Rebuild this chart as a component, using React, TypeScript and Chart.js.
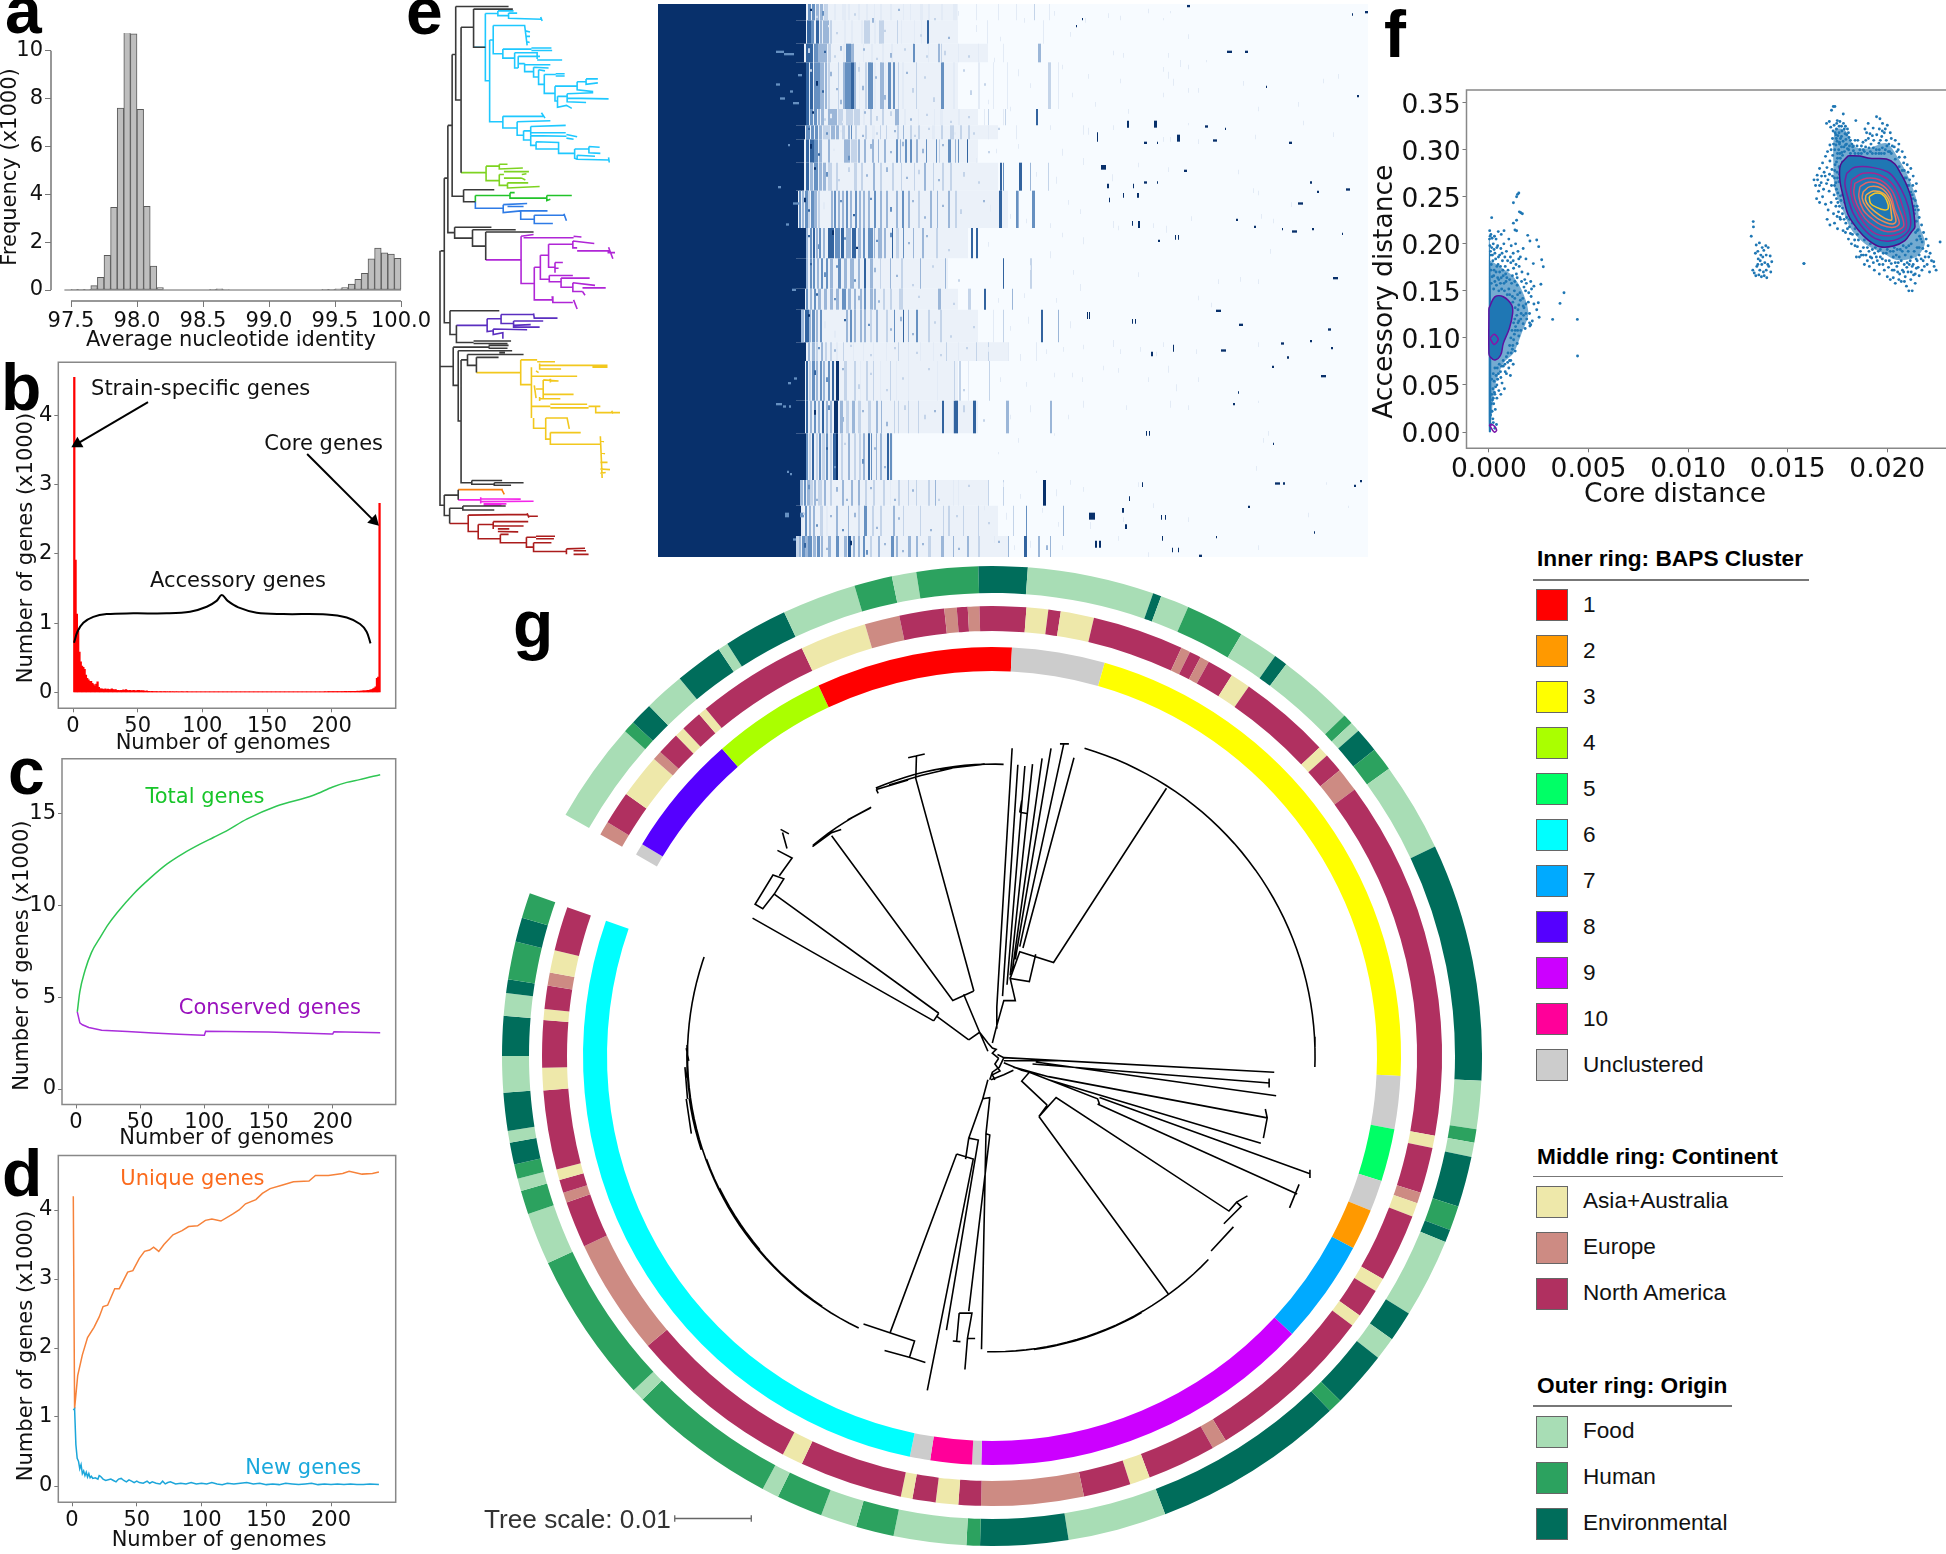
import React, { useEffect, useRef } from "react";
import { Chart, registerables } from "chart.js";
Chart.register(...registerables);

const PLOT_FONT = "'DejaVu Sans'";
const LEG_FONT = "'Liberation Sans'";

/* ---------- a: ANI histogram ---------- */
const aniBins = [97.525,97.575,97.625,97.675,97.725,97.775,97.825,97.875,97.925,97.975,98.025,98.075,98.125,98.175,98.575,98.625,98.675,99.425,99.475,99.525,99.575,99.625,99.675,99.725,99.775,99.825,99.875,99.925,99.975];
const aniFreq = [0.01,0.01,0.03,0.18,0.53,1.45,3.45,7.6,11.15,10.7,7.55,3.5,1.0,0.1,0.03,0.05,0.02,0.01,0.03,0.05,0.1,0.25,0.45,0.7,1.3,1.75,1.55,1.5,1.32];

/* ---------- b: gene frequency ---------- */
const geneFreq = [
4.55,1.91,1.13,0.88,0.58,0.44,0.38,0.36,0.33,0.25,0.2,0.18,0.16,0.16,0.13,0.11,0.09,0.12,0.15,0.07,
0.05,0.05,0.045,0.04,0.05,0.04,0.045,0.04,0.04,0.05,0.04,0.035,0.04,0.03,0.03,0.025,0.03,0.03,0.035,0.03,
0.04,0.03,0.025,0.03,0.02,0.025,0.03,0.02,0.02,0.03,0.03,0.02,0.025,0.02,0.02,0.015,0.02,0.015,0.015,0.01,
0.015,0.01,0.012,0.01,0.012,0.008,0.01,0.012,0.008,0.01,0.01,0.008,0.01,0.007,0.01,0.008,0.01,0.006,0.008,0.01,
0.008,0.006,0.008,0.01,0.006,0.008,0.007,0.01,0.006,0.008,0.006,0.008,0.005,0.008,0.006,0.008,0.005,0.006,0.008,0.005,
0.006,0.005,0.008,0.005,0.006,0.005,0.006,0.008,0.005,0.006,0.005,0.005,0.006,0.005,0.008,0.005,0.006,0.005,0.005,0.006,
0.005,0.006,0.005,0.005,0.006,0.004,0.005,0.006,0.005,0.004,0.006,0.005,0.004,0.005,0.006,0.005,0.004,0.005,0.006,0.004,
0.005,0.004,0.006,0.004,0.005,0.004,0.005,0.004,0.005,0.006,0.004,0.005,0.004,0.005,0.004,0.006,0.005,0.004,0.005,0.004,
0.005,0.005,0.004,0.005,0.006,0.005,0.004,0.005,0.006,0.005,0.005,0.006,0.005,0.006,0.005,0.006,0.006,0.005,0.006,0.007,
0.006,0.006,0.007,0.006,0.007,0.008,0.006,0.007,0.008,0.007,0.008,0.008,0.007,0.008,0.009,0.008,0.009,0.01,0.009,0.01,
0.01,0.009,0.01,0.011,0.01,0.012,0.011,0.012,0.012,0.013,0.014,0.012,0.013,0.014,0.013,0.015,0.014,0.015,0.015,0.016,
0.015,0.016,0.018,0.02,0.02,0.022,0.025,0.03,0.03,0.035,0.04,0.05,0.06,0.08,0.2,0.22,2.73];
const braceX = [0.8,3.4,8,15.7,26,46.6,72.4,90.5,103.4,111,115,119.6,127.8,142,162.6,196,211.6,221.9,227,230];
const braceY = [0.716,0.875,1.005,1.09,1.13,1.14,1.14,1.163,1.235,1.32,1.404,1.32,1.226,1.149,1.13,1.125,1.08,0.986,0.875,0.707];
const strainArrowX = [58,3.4], strainArrowY = [4.19,3.59];
const coreArrowX = [181,232.7], coreArrowY = [3.44,2.476];

/* ---------- c: pan / core curves ---------- */
const totalX = [1,3,7,12,19,25,32,45,58,71,84,97,107,117,133,156,185,200,211,221,237];
const totalY = [4.2,5.3,6.45,7.43,8.27,8.95,9.6,10.64,11.5,12.26,12.85,13.35,13.7,14.05,14.7,15.4,16,16.45,16.7,16.85,17.12];
const conservedX = [1,2,3,5,10,20,40,60,80,99,100,101,150,199,200,201,237];
const conservedY = [4.2,3.9,3.6,3.5,3.35,3.2,3.13,3.05,2.98,2.93,2.93,3.15,3.1,3.0,3.0,3.12,3.07];

/* ---------- d: unique / new genes ---------- */
const uniqueX = [1,2,4.4,8,12,17,21,24,27.5,33,36.5,43,47,52,56,60,63,67,71,78,85,90,97,103,108,115,124,129,134,142,147,153,162,171,183,188,198,209,214,224,232,237];
const uniqueY = [4.2,1.12,1.6,1.9,2.15,2.3,2.45,2.6,2.62,2.86,2.86,3.1,3.12,3.3,3.4,3.42,3.46,3.4,3.5,3.64,3.7,3.76,3.77,3.85,3.87,3.84,3.94,4,4.09,4.15,4.24,4.31,4.36,4.41,4.42,4.5,4.5,4.53,4.56,4.52,4.53,4.55];
const newX = [1,2,3,4,5,6,7,8,9,10,11,12,13,14,15,16,18,20,21,22,24,26,28,30,32,34,36,38,40,42,44,46,48,50,52,55,58,60,62,65,68,70,72,74,76,80,84,88,92,96,100,104,108,112,116,120,125,130,135,140,145,150,155,160,165,170,175,180,185,190,195,200,205,210,215,220,225,230,237];
const newY = [1.1,1.12,0.6,0.4,0.36,0.25,0.31,0.18,0.22,0.15,0.2,0.13,0.18,0.12,0.14,0.11,0.12,0.1,0.15,0.14,0.1,0.08,0.09,0.1,0.08,0.06,0.1,0.11,0.08,0.06,0.09,0.07,0.05,0.07,0.05,0.04,0.07,0.04,0.06,0.04,0.03,0.07,0.03,0.05,0.06,0.03,0.04,0.03,0.05,0.03,0.04,0.03,0.05,0.03,0.02,0.04,0.03,0.04,0.05,0.03,0.04,0.02,0.03,0.02,0.04,0.03,0.02,0.03,0.04,0.02,0.03,0.02,0.03,0.02,0.03,0.02,0.02,0.03,0.02];

/* ---------- e: tree, written as branches in tree-plot units ---------- */
const treeBlack = [
[100,18,248,18],[100,18,100,275,115,275],[150,25,260,25],[150,25,150,130,183,130],[115,75,150,75],[115,75,115,475],
[90,150,98,150],[90,150,90,540,122,540],[122,522,208,522],[122,522,122,555,155,555],[78,345,90,345],[78,345,78,640,97,640],
[97,625,97,655,147,655],[97,625,200,625],[147,632,147,677,184,677],[147,632,268,632],[184,638,184,715],[184,638,318,638],
[68,490,78,490],[68,490,68,888,84,888],[84,855,84,920,102,920],[84,855,222,855],[102,895,102,942,150,942],[150,938,255,938],[150,945,245,945],[192,950,248,950],[192,958,245,958],
[58,690,68,690],[56,690,56,1390,68,1390],[56,1008,93,1008],[93,955,93,1060,107,1060],[93,955,195,955],[107,965,107,1158,115,1158],[107,965,258,965],
[115,990,115,1328,145,1328],[115,990,133,990],[133,975,133,1005,158,1005],[133,975,290,975],[158,983,158,1025],[158,983,220,983],[222,970,238,970],
[145,1322,145,1332,208,1332],[145,1322,230,1322],[208,1328,208,1335,255,1335],[208,1328,290,1328],
[68,1362,68,1418,83,1418],[68,1362,107,1362],[107,1347,107,1375],[83,1398,83,1440],[83,1398,120,1398],[120,1392,120,1403,208,1403],[120,1392,240,1392]];
const treeCyan = [
[183,37,183,222,195,222],[183,130,150,130],[183,37,218,37],[218,30,218,43,248,43],[218,30,262,30],[248,36,248,50,340,53],[248,36,272,36],[338,47,342,58],
[195,110,195,335,232,335],[195,110,205,110],[205,70,205,148,232,148],[205,70,293,70,300,125],[295,85,308,88],[297,100,308,100],[300,115,307,117],
[232,135,232,160,265,160],[232,135,312,135],[312,132,368,132],[312,139,370,139],[265,145,265,187,275,187],[265,145,328,145,328,162],[328,165,398,165],[275,155,275,187],[275,155,336,155],[275,175,293,175],[293,175,293,197,318,197],[293,178,365,178],[318,185,318,212,332,212],[318,185,360,187],[332,192,332,232,348,232],[332,192,350,195],[348,205,348,257,378,257],[348,205,380,205],[380,203,405,203],[380,209,405,209],[378,237,378,278,385,278],[378,237,440,237],[440,225,440,247,485,252],[440,225,465,225],[465,217,465,232,498,228],[465,217,498,217],[385,265,385,295,410,290,425,298],[385,265,412,265],[412,258,412,280,465,282],[412,258,485,255],[412,270,528,272],
[232,320,232,352,272,352],[232,320,345,320],[340,310,350,325],[272,335,272,372,290,372],[272,335,365,332],[290,360,290,385,310,385],[290,360,310,360],[310,348,310,372],[310,348,408,345],[310,365,408,365],[310,373,310,400,325,400],[310,373,410,375],[410,370,440,376],[410,380,430,383],[325,390,325,410,388,410],[325,390,388,392,388,422,433,422],[433,410,433,435,440,438],[433,410,473,410],[473,403,473,420,505,422],[473,403,503,405],[440,427,440,438,530,440],[440,427,490,430],[528,433,530,447]];
const treeLime = [[115,475,185,475],[185,457,185,497,222,497],[185,457,222,457],[222,452,222,465,288,462],[222,452,245,452],[222,480,222,510,245,510],[222,480,235,480],[235,472,305,472],[235,490,285,490],[285,480,298,478],[285,490,295,495],[245,503,303,503],[245,503,245,517,335,513]];
const treeGreen = [[155,538,252,538],[155,555,155,538],[252,530,252,545,355,545],[252,530,265,530],[355,538,355,552,365,548],[355,538,425,538]];
const treeBlue = [[155,555,155,573,233,573],[233,563,233,585,282,580],[233,563,300,560],[245,568,290,568],[282,580,282,603,320,603],[282,580,357,580],[320,592,320,615,372,615],[320,592,405,592],[403,588,410,607]];
const treePurple = [[184,715,283,715],[283,650,283,780,320,780],[283,650,318,645],[290,654,430,654],[430,650,452,652],[320,735,320,825,370,825],[320,735,337,735],[337,702,337,768,362,768],[337,702,360,702],[360,672,360,735,378,735],[360,672,428,672],[428,663,428,682,440,682],[428,663,488,670],[440,690,530,690],[378,722,378,750],[378,722,400,722],[378,738,388,738],[362,758,362,775,395,775],[362,758,428,758],[395,765,395,790,428,790],[395,765,475,765],[428,778,428,802,455,802],[428,778,490,785],[455,792,520,792],[455,802,462,812],[370,815,372,832,428,832],[430,825,440,850],[528,680,540,712],[525,695,546,695]];
const treeIndigo = [[102,895,188,895],[188,877,188,912,205,910],[188,877,227,877],[227,865,227,890,262,890],[227,865,318,865],[318,862,320,875,385,875],[262,883,262,900,335,900],[262,883,345,883],[262,895,310,893],[205,905,205,920,232,915,232,932],[205,905,300,907]];
const treeGold = [[158,1025,282,1025],[282,990,282,1058,312,1058],[282,990,328,990],[328,995,378,995],[335,1000,335,1015,395,1015],[335,1005,525,1005],[485,1003,485,1010,525,1010],[312,1010,312,1150],[312,1035,440,1035],[325,1020,332,1025],[320,1060,325,1095],[325,1070,345,1070],[345,1045,345,1095],[345,1045,388,1048],[365,1042,365,1052],[345,1085,430,1085],[335,1097,393,1097],[335,1092,335,1103],[312,1118,365,1118],[365,1112,468,1112],[365,1122,472,1122],[472,1118,505,1118],[492,1118,492,1135,560,1135],[537,1130,540,1138],[318,1150,318,1178,352,1178],[352,1150,352,1208,365,1208],[352,1150,412,1150,418,1180],[365,1190,365,1222,505,1222],[365,1190,450,1190],[505,1200,510,1315],[505,1212,515,1215],[505,1245,518,1248],[505,1272,525,1272],[505,1290,532,1292],[505,1302,520,1300]];
const treeOrange = [[107,1347,232,1347],[228,1345,236,1360]];
const treeMagenta = [[107,1375,170,1375],[170,1368,170,1385],[170,1372,282,1373],[170,1380,318,1379],[178,1386,242,1386],[178,1390,228,1390]];
const treeRed = [[83,1440,135,1440],[135,1417,135,1462,163,1462],[135,1417,300,1415],[300,1412,305,1424],[305,1420,330,1420],[163,1443,163,1482,225,1482],[163,1443,205,1443],[205,1435,205,1455],[205,1435,303,1435],[205,1447,290,1447],[218,1455,250,1455],[218,1462,275,1463],[225,1470,225,1493,298,1493],[225,1470,248,1470],[298,1478,298,1505,318,1505],[298,1478,325,1478],[325,1475,378,1475],[325,1482,375,1482],[318,1493,318,1517,410,1517],[318,1493,368,1493],[410,1510,410,1525],[410,1510,462,1508],[430,1515,465,1515],[430,1525,472,1525]];
const treeColors = ["#3a3a3a","#1ec8ff","#7ed321","#22c32a","#2e7be6","#b026d6","#5a2ec0","#f2c81e","#f77f0f","#f325e9","#ab1c1c"];

/* ---------- e: presence/absence heat map (columns = genes, rows = genomes) ---------- */
const heatShades = ["#08306b","#32639f","#6690c1","#9bb6d8","#c4d4e9","#e3ebf6"];
const heatBandTop = [0,7,17,25,45,52,58,68,80,96,109,122,131,145,153,170,184,204,215,228];
const heatBandBottom = [7,17,25,45,52,58,68,80,96,109,122,131,145,153,170,184,204,215,228,237];
const heatEdge = [148,148,146,148,148,147,146,146,140,148,148,147,143,148,147,147,148,142,143,138];
const heatPaleExtent = [300,300,330,300,320,340,320,340,350,310,290,300,320,350,300,320,235,330,340,350];
const heatBandStripes = [
[[150,3,2],[154,3,2],[158,3,3],[162,3,3],[166,4,4],[176,2,5],[184,4,5],[190,2,5],[200,2,5],[208,2,5],[216,1,5],[222,2,5],[232,2,5],[245,1,5],[252,1,5],[262,3,5],[270,2,5],[283,2,5],[295,4,5],[318,1,5],[340,1,5],[358,1,5],[376,1,4],[391,1,5]],
[[149,4,1],[153,3,2],[158,3,1],[162,2,3],[165,6,3],[172,2,4],[186,2,5],[193,2,5],[203,2,5],[206,6,4],[216,2,5],[221,5,4],[239,1,4],[243,1,5],[256,1,5],[269,2,1],[263,1,5],[329,1,5],[385,1,5]],
[[148,4,1],[152,3,1],[156,4,2],[160,4,3],[164,5,3],[170,3,4],[185,2,5],[188,5,2],[193,3,3],[205,1,5],[213,2,5],[224,2,5],[233,2,5],[255,2,2],[280,2,3],[283,1,4],[380,3,3],[300,1,5],[320,1,5],[345,1,5],[270,1,5]],
[[148,3,1],[152,3,1],[156,3,2],[159,3,2],[162,4,3],[167,2,3],[170,2,4],[180,1,4],[185,2,3],[187,6,2],[193,3,1],[196,2,3],[201,1,5],[207,2,4],[210,5,2],[216,2,5],[222,4,3],[227,1,5],[230,3,2],[235,2,2],[240,1,4],[244,2,5],[258,1,4],[283,3,2],[295,2,5],[320,2,5],[335,1,5],[349,1,5],[390,3,4],[400,1,5]],
[[148,3,1],[152,3,2],[156,3,2],[160,2,3],[163,3,3],[170,9,3],[180,5,4],[188,7,4],[196,6,4],[205,2,5],[212,2,4],[224,2,4],[237,4,3],[246,2,5],[260,1,5],[276,1,5],[282,3,5],[300,2,5],[326,1,5],[330,1,4],[347,1,4],[378,2,1],[345,1,5]],
[[148,4,2],[153,3,2],[157,3,2],[161,3,3],[165,7,4],[173,4,3],[178,3,3],[184,3,4],[190,2,3],[193,1,2],[197,2,4],[207,2,4],[214,3,5],[222,1,4],[228,1,4],[239,2,4],[245,1,3],[252,2,4],[260,2,4],[274,3,5],[283,2,4],[292,4,4],[302,2,4],[310,2,4],[330,1,5],[358,1,5]],
[[148,3,1],[152,4,1],[156,4,2],[161,3,3],[170,2,3],[186,6,3],[193,6,4],[200,2,3],[206,2,3],[214,2,3],[220,1,3],[226,2,3],[238,2,2],[242,1,3],[247,2,2],[252,2,2],[258,2,3],[268,1,2],[278,1,2],[281,1,4],[290,3,2],[297,1,3],[309,1,1],[300,1,2]],
[[148,3,1],[152,3,3],[156,4,2],[161,3,3],[165,3,3],[170,2,4],[172,2,4],[178,2,4],[196,3,4],[203,2,4],[215,2,3],[222,2,4],[234,2,4],[243,1,4],[256,1,4],[266,2,3],[275,1,4],[284,2,4],[292,2,4],[342,2,1],[345,1,2],[361,3,1],[372,1,3],[390,1,4]],
[[141,2,2],[144,2,3],[147,3,2],[150,2,4],[153,3,2],[156,3,3],[160,2,4],[173,2,3],[176,2,2],[180,2,3],[184,2,3],[188,2,2],[192,2,3],[197,2,2],[201,2,3],[205,2,3],[210,2,3],[216,2,2],[222,2,3],[228,2,3],[238,2,3],[244,2,2],[250,2,3],[260,2,4],[272,2,3],[279,1,3],[290,2,3],[297,2,4],[341,3,1],[358,2,2],[374,3,2],[360,1,3]],
[[148,2,3],[152,2,2],[155,2,1],[158,2,3],[161,2,2],[165,2,3],[170,6,1],[177,5,2],[183,3,1],[188,5,3],[194,4,1],[200,3,3],[205,2,2],[210,5,2],[216,1,3],[220,4,3],[226,2,3],[234,1,1],[238,3,4],[245,1,2],[255,1,3],[264,2,3],[278,2,4],[313,2,1],[318,2,1]],
[[148,2,3],[152,2,2],[155,2,2],[159,2,3],[163,2,2],[168,2,2],[172,3,3],[180,3,2],[186,3,3],[192,4,3],[200,2,3],[206,2,1],[212,3,3],[222,1,4],[232,1,3],[243,2,4],[262,1,3],[287,1,3],[345,1,1],[372,2,4]],
[[148,2,2],[152,2,3],[156,2,2],[160,3,3],[166,3,3],[172,3,3],[178,3,3],[184,4,2],[190,3,3],[196,2,3],[202,2,3],[206,2,2],[212,3,3],[216,2,3],[225,2,4],[232,2,4],[241,4,4],[280,3,3],[310,3,4],[326,2,1],[354,1,3]],
[[143,3,3],[147,4,1],[151,2,3],[154,3,2],[158,2,3],[162,2,2],[188,2,3],[192,2,2],[196,2,3],[202,2,3],[206,2,3],[212,2,4],[218,2,3],[228,2,4],[236,1,2],[245,1,1],[250,1,3],[258,2,2],[270,2,4],[282,2,4],[345,1,4],[383,2,1],[400,1,3],[335,1,5]],
[[150,2,3],[154,3,3],[158,2,4],[163,2,3],[167,2,4],[172,2,4],[178,2,5],[185,1,4],[195,1,5],[205,1,5],[215,1,5],[228,1,5],[240,1,4],[250,1,5],[262,1,5],[275,1,5],[288,1,4],[300,1,5],[318,1,4],[330,1,4],[350,1,5],[378,1,5]],
[[148,2,1],[151,2,4],[154,3,2],[158,2,3],[162,2,2],[165,2,3],[170,2,2],[174,2,1],[178,3,0],[186,3,4],[196,2,4],[202,1,5],[208,2,4],[215,1,4],[222,1,5],[232,1,4],[238,1,5],[250,1,5],[279,1,5],[296,1,4],[301,2,4],[310,1,5],[331,1,4]],
[[148,2,1],[152,2,3],[156,2,2],[160,2,3],[164,2,1],[168,2,3],[172,2,3],[176,4,0],[182,3,3],[188,3,4],[194,3,3],[200,3,4],[210,3,4],[218,2,3],[223,1,3],[236,1,4],[240,1,4],[250,1,4],[260,1,4],[284,2,1],[296,4,1],[295,1,4],[315,3,1],[348,3,3],[392,2,3]],
[[148,2,2],[151,2,4],[154,2,1],[158,2,4],[161,2,2],[164,3,4],[168,2,2],[172,2,4],[175,3,1],[178,2,0],[183,2,4],[190,2,3],[196,2,4],[201,2,4],[205,2,3],[210,2,1],[213,1,2],[218,1,3],[222,2,3],[229,2,1],[232,2,2]],
[[142,3,3],[146,2,2],[149,3,3],[152,3,4],[156,2,3],[160,4,4],[166,2,3],[172,2,4],[184,2,3],[193,2,3],[200,2,3],[207,2,4],[215,2,4],[225,2,4],[232,1,5],[240,2,4],[250,1,4],[258,1,4],[270,2,4],[277,1,3],[295,1,5],[300,1,5],[385,3,0],[330,1,4],[345,1,4]],
[[143,2,5],[147,2,2],[151,2,3],[155,2,3],[162,3,4],[168,2,5],[178,2,3],[190,1,3],[200,2,4],[206,3,2],[214,2,4],[222,2,4],[235,2,3],[245,1,4],[262,1,4],[285,1,4],[290,2,4],[305,1,4],[320,1,4],[368,1,2],[355,1,4],[405,1,3]],
[[138,3,4],[141,2,3],[144,3,2],[147,3,3],[150,4,2],[155,3,3],[159,3,2],[163,2,3],[170,3,3],[178,3,2],[186,3,3],[190,3,1],[195,2,3],[200,2,3],[205,2,2],[212,2,4],[220,2,3],[233,3,2],[238,2,3],[250,3,3],[258,2,3],[270,3,4],[283,3,3],[295,1,3],[309,2,3],[320,2,4],[366,3,1],[380,2,3],[392,1,3],[350,1,3]]];
/* column, row, genes wide, genomes tall */
const heatDots = [[529,0.4,3,1],[469,50,2,3],[496,50,3,3],[439,55,1,4],[519,56,3,3],[486,59,3,1],[499,59,1,1],[547,52,3,1],[567,53,1,1],[555,58,4,1],[631,59,3,1],[443,69,5,2],[486,76,3,1],[499,76,1,1],[449,77,2,2],[475,77,1,2],[479,81,2,2],[465,81,1,2],[451,83,1,2],[526,71,3,1],[569,20,5,1],[587,20,3,1],[694,4,1,1],[707,3,3,1],[699,39,2,1],[608,35,1,1],[688,79,4,1],[659,80,2,1],[640,85,5,1],[652,76,2,1],[578,92,2,1],[480,93,2,3],[474,93,1,2],[596,95,2,1],[624,96,1,1],[634,97,5,1],[654,96,2,1],[517,99,1,2],[520,99,1,2],[500,101,2,1],[684,98,1,1],[675,117,5,1],[558,131,5,1],[429,132,1,3],[431,132,1,3],[474,135,1,2],[477,135,1,2],[581,137,4,1],[670,139,3,1],[623,145,3,1],[652,144,2,1],[673,147,2,1],[563,148,5,1],[515,146,1,3],[493,149,2,2],[629,151,2,1],[614,155,2,1],[663,159,5,1],[580,166,1,1],[575,171,2,1],[488,183,1,2],[491,183,1,2],[615,188,1,1],[617,205,5,1],[625,205,2,1],[484,205,1,2],[702,204,2,1],[696,206,2,1],[471,211,1,2],[590,215,2,1],[464,216,2,2],[431,218,6,3],[507,219,1,2],[503,219,1,2],[467,223,2,2],[437,230,2,3],[441,230,2,3],[504,228,1,2],[514,233,1,2],[520,233,1,2],[541,236,3,1],[558,228,1,1],[656,226,1,1],[418,9,1,1],[424,6,1,1]];
/* faint single-gene flecks in the sparse part: column, row, genomes tall */
const heatFlecks = [[427,6,2],[450,4,2],[462,5,2],[490,2,2],[505,6,1],[512,3,1],[530,13,2],[455,20,2],[465,21,2],[510,21,2],[522,24,3],[530,26,2],[505,27,2],[548,24,1],[430,30,2],[462,32,2],[510,29,3],[515,32,3],[530,36,2],[540,36,2],[505,38,2],[437,42,2],[470,45,2],[585,33,2],[665,32,2],[680,30,2],[600,44,2],[640,42,2],[430,53,3],[425,52,4],[455,52,2],[505,57,2],[512,57,2],[530,51,1],[540,58,2],[597,56,2],[645,50,2],[675,55,2],[425,66,3],[454,73,3],[480,68,2],[510,70,2],[580,71,2],[595,79,2],[600,80,2],[633,85,2],[422,88,2],[455,93,3],[460,95,2],[495,94,2],[508,95,3],[533,91,2],[603,90,2],[615,92,2],[425,100,3],[612,105,2],[480,115,2],[560,118,2],[582,117,2],[600,118,2],[422,120,3],[553,128,2],[540,125,2],[425,146,2],[455,144,3],[462,148,2],[482,147,2],[498,149,2],[505,145,2],[538,148,2],[600,145,2],[424,160,2],[445,155,2],[460,156,2],[490,160,2],[510,155,3],[540,160,2],[518,163,3],[425,170,3],[468,172,2],[512,170,3],[530,172,2],[600,170,1],[610,183,2],[605,186,2],[598,198,2],[480,205,2],[425,207,2],[495,214,2],[465,220,2],[432,222,3],[460,228,2],[530,220,2],[490,235,2],[600,232,2],[690,215,1],[668,205,1],[650,218,2],
[300,3,2],[318,9,3],[342,14,2],[366,6,2],[396,3,2],[412,12,2],[336,23,2],[360,28,3],[372,34,2],[404,26,2],[414,38,2],[330,41,2],[352,44,2],[392,52,2],[404,62,3],[338,62,2],[360,60,2],[318,66,2],[378,72,2],[398,74,3],[410,84,2],[332,86,3],[352,90,2],[368,92,2],[392,94,2],[404,98,2],[330,102,2],[372,112,2],[392,106,3],[415,114,2],[340,126,2],[366,124,2],[398,126,2],[412,136,3],[370,134,3],[352,138,2],[330,147,2],[362,150,3],[388,148,2],[405,147,2],[414,158,2],[342,160,2],[368,162,2],[396,158,2],[352,176,2],[372,172,3],[410,176,2],[396,184,1],[360,186,2],[340,192,1],[378,200,1],[345,205,2],[362,210,2],[398,208,3],[412,204,2],[326,215,2],[348,218,3],[384,216,2],[400,222,2],[336,228,3],[356,232,2],[372,230,3],[404,232,2]];
/* darker and paler interruptions in the stripes: column, row, genomes tall, shade */
const heatMottle = [[152,2,1,0],[158,5,1,4],[164,3,2,2],[170,9,1,5],[178,12,1,4],[196,4,1,4],[214,6,2,3],[226,11,1,4],[240,2,1,3],[262,13,1,4],[276,6,1,4],[290,14,1,3],[150,19,2,4],[166,20,1,1],[176,22,1,4],[182,18,2,3],[205,19,1,3],[218,23,1,4],[232,21,2,3],[246,19,1,4],[268,22,1,4],[286,20,2,4],[310,22,1,4],[152,28,1,4],[158,33,2,0],[164,37,1,1],[172,29,2,3],[178,36,1,3],[182,41,2,3],[200,27,2,4],[204,35,2,3],[217,31,1,3],[226,39,2,3],[248,29,1,3],[254,36,2,4],[266,31,1,4],[275,40,2,4],[305,28,1,4],[312,37,2,4],[326,34,1,4],[154,46,1,0],[166,49,1,4],[172,47,2,5],[184,50,1,5],[206,46,1,3],[218,48,2,4],[232,46,2,4],[252,49,1,3],[268,47,1,4],[292,50,1,4],[310,48,1,4],[150,53,1,1],[168,55,1,2],[182,54,1,5],[204,56,1,3],[218,55,1,4],[236,54,1,3],[256,56,1,4],[270,53,1,4],[296,55,1,5],[315,55,1,4],[340,53,1,4],[152,60,2,0],[160,64,1,1],[175,62,1,5],[190,65,2,2],[212,60,2,3],[232,63,1,3],[244,59,2,3],[264,62,2,3],[284,60,1,3],[330,63,1,4],[156,70,1,0],[168,72,2,2],[180,75,1,4],[190,70,2,4],[208,73,1,3],[228,70,2,3],[248,74,1,3],[260,71,2,4],[280,75,1,3],[305,72,2,4],[320,76,1,4],[146,83,2,0],[150,88,1,1],[165,85,3,5],[182,84,1,2],[195,90,1,1],[212,83,1,2],[232,87,2,2],[254,84,1,3],[266,91,1,3],[284,86,1,3],[302,88,2,4],[325,84,1,3],[150,99,1,1],[160,103,2,2],[174,97,2,0],[186,100,1,2],[198,104,1,0],[218,101,1,2],[232,98,2,2],[250,102,1,3],[268,99,1,3],[290,105,1,4],[152,111,1,1],[166,115,2,2],[178,112,1,2],[196,118,1,2],[216,113,2,3],[238,116,1,3],[254,120,1,4],[274,112,1,4],[300,118,1,4],[158,124,1,1],[176,126,1,2],[200,125,2,3],[220,127,1,3],[260,125,1,4],[295,128,1,4],[150,133,1,0],[166,136,3,5],[176,140,3,5],[186,135,1,1],[210,137,1,2],[232,139,1,3],[242,134,2,3],[254,141,1,3],[276,136,1,4],[292,142,1,4],[315,138,1,4],[160,147,1,2],[176,148,1,3],[192,146,1,4],[212,150,1,4],[236,147,1,4],[258,149,1,4],[282,150,1,4],[308,147,1,4],[156,157,2,1],[168,160,2,2],[184,156,1,3],[200,163,2,4],[212,158,1,4],[228,165,1,4],[244,160,1,4],[270,156,1,4],[305,165,1,4],[156,174,2,0],[170,172,2,2],[184,177,2,3],[204,174,1,3],[228,179,2,3],[246,172,2,4],[266,176,2,4],[276,174,1,3],[305,172,3,4],[325,178,1,4],[168,190,1,1],[186,188,1,4],[176,198,1,2],[204,195,2,2],[216,190,1,3],[226,198,1,3],[150,206,2,2],[158,212,1,3],[178,207,2,3],[188,212,1,3],[212,207,1,3],[236,212,1,3],[254,208,1,3],[280,212,1,4],[310,206,1,4],[145,218,1,4],[158,223,1,2],[172,219,1,3],[184,225,1,2],[196,218,2,3],[218,224,1,3],[240,220,1,3],[272,225,1,3],[298,219,1,4],[330,222,1,4],[146,231,2,1],[168,233,1,3],[192,230,2,0],[208,234,2,2],[226,231,1,3],[244,234,1,3],[264,231,1,3],[300,233,1,3],[340,230,1,3],[388,232,2,3]];
/* pale gaps in the solid block: column, genes wide, row, genomes tall */
const heatSpecks = [[118,8,20,1],[126,10,21,1],[122,5,40,1],[135,6,42,1],[132,3,37,1],[140,4,30,1],[118,4,34,1],[130,2,60,1],[135,6,85,1],[120,3,78,1],[127,4,218,2],[142,4,218,2],[132,2,201,1],[130,3,162,1],[136,3,160,1],[125,3,172,1],[131,2,172,1],[118,6,171,1],[134,4,122,1],[128,3,94,1],[129,2,200,1],[135,3,229,1]];

/* ---------- f: distance scatter (core ×1e-5, accessory ×1e-3) ---------- */
const mainCloud = [1729,346,1720,342,1737,346,1709,330,1695,328,1749,331,1779,338,1842,331,1946,335,1963,333,1976,328,1904,328,1929,323,1913,317,1716,324,1733,326,1745,322,1758,325,1772,320,1788,317,1800,322,1738,318,1752,315,1765,312,1778,309,1792,311,1808,313,1822,306,1838,310,1725,312,1712,305,1742,305,1756,300,1770,303,1785,298,1800,301,1815,296,1830,299,1848,304,1862,300,1878,308,1891,303,1905,312,1918,306,1932,310,1947,316,1958,307,1972,314,1985,318,1995,310,2008,306,2020,312,2035,303,2048,298,2060,292,1690,293,1675,286,1660,280,1648,273,1700,298,1712,288,1726,294,1738,284,1750,291,1762,296,1683,276,1697,281,1710,274,1722,279,1735,270,1748,276,1668,265,1680,258,1695,264,1708,256,1720,262,1733,252,1745,258,1757,266,1655,256,1640,262,1632,268,1645,248,1660,244,1675,250,1690,242,1703,236,1718,244,1730,232,1742,240,1755,234,1768,246,1698,226,1712,220,1735,222,1750,216,1765,226,1778,214,1792,222,2060,282,2075,278,2088,270,2072,268,2100,262,2112,268,2118,255,2130,248,2142,256,2150,240,2138,236,2160,228,2155,215,2172,220,2168,205,2182,212,2195,205,2178,195,2205,198,2215,190,2190,186,2200,178,2222,182,2235,176,2212,170,2245,172,2265,202,2233,181,2160,196,2148,204,2136,232,2128,262,2104,276,2082,286,1790,212,1805,205,1820,200,1836,204,1850,197,1865,192,1880,196,1893,188,1908,192,1922,185,1936,190,1950,182,1965,186,1978,178,1992,182,2006,175,2020,179,2034,172,2048,176,2062,168,2076,172,2090,165,2104,170,2118,162,2132,167,2146,174,2160,166,2174,172,2186,176,2058,162,2040,158,2096,155,2108,150,2125,150,2086,160,2140,158,1581,179,1860,186,1885,178,1910,176,1935,172,1960,168,1985,172,2000,165,2015,162,2110,178,2125,176,2150,182,2170,184,2030,186,1995,190,1845,186,1825,210,1810,218,1775,232,1760,240,1745,248,1735,262,1725,272,1702,268,1688,272,1670,272,1650,268,1660,262,1718,300,1730,306,1744,312,1760,308,1775,294,1790,305,1806,300,1822,292,1838,296,1855,296,1870,296,1885,298,1900,296,1915,298,1930,302,1945,300,1960,300,1975,302,1990,300,2005,298,2020,296,2040,290,2055,300];
const mainCloudDense = [1746,328,1762,330,1728,320,1742,316,1758,318,1770,314,1784,322,1796,316,1748,309,1760,306,1772,297,1782,303,1795,306,1810,304,1826,303,1736,300,1750,296,1764,291,1775,287,1745,287,1758,282,1736,278,1750,270,1760,274,1742,265,1752,254,1770,262,1765,251,1752,244,1775,238,1783,226,1762,228,1748,229,1796,228,1800,216,1815,211,1810,226,1838,198,1855,204,1870,188,1885,204,1900,196,1915,200,1925,194,1940,196,1955,192,1965,194,1980,190,2000,194,2015,192,2030,192,2045,188,2060,186,2075,192,2090,188,2105,192,2120,186,2135,192,2150,196,2160,188,2145,184,2130,178,2115,182,2100,180,2085,178,2070,182,2055,180,2040,180,2025,172,2010,182,1975,184,1960,178,1945,186,1930,180,1915,186,1900,182,1880,188,2030,164,2052,170,2070,160,2082,170,2098,175,2120,170,2140,168,2155,175,2180,182,2195,192,2208,186,2175,202,2162,208,2150,214,2146,224,2156,236,2140,246,2146,264,2130,272,2118,280,2100,284,2088,292,2075,298,2058,306,2040,310,2012,298,2025,304,1998,304,1985,296,1970,296,1958,296,1942,296,1925,296,1908,302,1892,310,1870,304,1852,310,1880,300,1965,310,1975,320,1990,322,2000,326,2015,318,1960,322,1925,315,1896,318,1888,322,1770,325,1780,328,1790,325,1805,318,1815,310,1830,304,2085,278,2095,270,2108,262,2125,252,2135,240,2130,218,2142,212,2120,200,2108,198,2095,196,2080,198,2065,194,2050,194,2035,196,1850,210,1838,216,1825,222,1815,232,1800,238,1786,244,1775,252,1770,270,1762,280];
const leftCloud = [144,252.6,139,250,150,254,123,243.7,153,234,168,232,160,233,14,227.8,139,225,123,222,131,214.7,139,213.9,76,214,47,213,62,210,195,209,240,204,206,203,250,197,273,175.7,265,183,223,179,261,157,226,155,248,137.4,377,148,357,136.7,320,119.7,444,119.7,445,80.7,206,112.6,210,114,204,116,3,205,5,198,8,192,22,200,36,205,18,188,30,190,48,186,60,195,75,200,88,192,100,205,112,198,122,190,134,200,146,192,158,186,172,195,186,184,12,178,26,172,40,176,54,170,68,182,82,176,96,172,110,180,124,174,138,168,152,176,166,170,180,162,196,168,210,160,16,165,30,160,44,164,58,158,72,166,86,160,100,152,114,158,128,150,142,156,156,148,170,142,184,150,198,138,212,144,226,136,240,130,252,122,150,135,162,126,176,132,190,120,204,126,218,118,172,115,160,108,146,116,182,110,132,108,124,98,142,94,150,102,118,88,132,86,110,76,122,72,100,68,108,60,88,62,72,70,58,64,66,52,78,46,44,56,50,44,60,40,34,48,40,36,28,42,24,30,32,24,18,34,14,22,20,14];
const leftCloudDense = [10,188,20,182,34,184,46,178,58,176,70,172,84,168,10,172,24,166,36,170,50,162,62,164,76,158,90,164,104,162,118,166,130,160,142,164,12,158,24,152,38,156,50,150,64,152,78,150,92,146,104,146,118,144,130,142,144,146,158,140,172,134,186,136,120,138,132,132,146,130,160,120,174,124,186,126,130,120,140,124,150,118,134,112,144,108,124,116,128,104,116,108,110,100,120,92,104,92,112,84,96,84,104,76,94,74,88,80,80,72,72,76,82,64,64,70,52,72,60,58,42,68,30,68,48,62,36,60,22,62,14,56,26,54,40,50,20,46,30,40,14,40,22,36,12,30,16,22,8,18,10,8,22,10,30,4,38,8,14,196,26,194,40,196,54,188,66,190,80,186,94,182,108,186,122,182,136,178,150,184,164,160,176,154,188,158,200,148,214,152,4,214,6,208,10,210,16,206,28,208,44,198];
const midCloud = [1327,223.6,1328,218,1317,208,1342,198.8,1358,201,1372,196,1350,192,1338,190,1365,188,1380,193,1392,188,1412,187,1420,181,1400,178,1385,180,1370,178,1352,184,1345,176,1360,172,1378,170,1392,172,1405,176,1415,170,1325,172,1332,169,1340,166,1355,167,1368,165,1395,164,1382,166,1350,178,1362,182,1375,186,1390,198,1402,196,1582,179];

const contourC1 = [1804,293.7,1863,293.3,1913,290.9,1996,290.2,2038,284.8,2067,274.9,2097,262.5,2122,246.6,2139,218.2,2122,212.9,2088,203.4,2030,197.7,1963,197,1904,204,1854,214.7,1804,230.6,1779,250.1,1762,267.8,1765,283.8];
const contourC2 = [1796,274.9,1837,281.3,1929,281,2013,274.9,2072,257.2,2105,239.5,2117,220,2088,209.4,2013,203,1938,205.8,1879,216.5,1829,232.4,1801,250.1,1787,264.3];
const contourC3 = [1821,267.8,1879,274.9,1963,273.2,2030,262.5,2072,243,2097,221.8,2080,212.9,2013,208.7,1938,211.1,1879,223.5,1837,239.5,1817,253.7];
const contourC4 = [1837,264.3,1896,269.6,1963,267.8,2021,257.2,2055,239.5,2083,220,2055,214.7,1996,213,1938,218.2,1888,227.1,1849,241.3,1832,253.7];
const contourC5 = [1863,260.8,1904,265.4,1963,263.6,2013,253.7,2038,236,2060,221.8,2030,217.5,1971,220,1921,227.1,1879,236,1857,250.1];
const contourC6 = [1879,255.4,1913,260.8,1971,259,2013,248.4,2033,234.2,2043,223.5,2021,221,1971,224.6,1929,230.6,1893,239.5,1874,248.4];
const contourC7 = [1893,251.9,1929,256.1,1980,253.7,2010,244.8,2021,230.6,2021,225.3,1988,227.1,1938,234.2,1904,241.3,1891,246.6];
const contourC8 = [1909,250.1,1938,253.7,1971,253,1996,246.6,2005,237.7,1988,236,1946,238.8,1916,243];
const contourColors = ["#4f0d8e","#7a1fa0","#a5278f","#c8407a","#e0626a","#ed8a58","#f3a948","#f5c92a"];
const contourLeftBig = [0,131.4,31,143.8,72.4,143.8,114,135,119,126,102.5,110.1,72.4,94.2,59,81.8,31,76.5,5.5,80,0,83.6];
const contourLeftSmall = [5.5,99.5,26,103.8,47,98.5,26,93.1];
const contourBottom = [2,8,22,7.3,39,2,26,0];
const haloMain = [1737,322.8,1787,321,1837,303.3,1904,301.5,1996,306.8,2055,290.9,2105,271.4,2147,246.6,2164,218.2,2189,200.5,2147,186.3,2047,182.8,1980,189.9,1896,198.8,1821,214.7,1770,239.5,1737,257.2,1729,285.5,1729,306.8];
const haloLeft = [0,183,56,175.7,123,165,173,147,198,126,164.4,105,123,83.6,72.4,73,31,48,5,0,0,0];
const columnLeft = [0,0,10,0,12,60,10,150,3,205,0,205];

/* ---------- g: rings, as [class, end angle clockwise from top] ---------- */
const RING_START = 299.5;
const outerRing = [["F",311.5],["H",312.9],["E",315.6],["F",320.4],["E",326.1],["F",327.3],["E",334.9],["F",343.7],["H",348.2],["F",351.1],["H",358.4],["E",4.2],["F",19.2],["E",20.2],["F",23.6],["H",30.6],["F",35.3],["E",36.9],["F",46],["H",47.2],["F",48.4],["E",51.3],["H",54.1],["F",64.7],["E",92.9],["F",98.6],["H",100.2],["F",101.9],["E",107.9],["H",110.8],["E",112.3],["F",121.7],["E",125.3],["F",128],["E",134.7],["H",136.4],["E",159.3],["F",171],["E",181.4],["H",183],["F",191.6],["H",196.1],["F",200.4],["H",205.9],["F",207.9],["H",225.5],["F",227],["H",245],["F",251.2],["H",254],["F",255.5],["H",257.2],["E",259.8],["F",261.2],["E",265.7],["F",270],["E",274.7],["F",277.4],["E",279],["H",283.5],["E",286.4],["H",289.4],["gap",299.5]];
const middleRing = [["Eu",301.3],["N",305.6],["A",311.3],["Eu",312.5],["N",315.4],["A",316.7],["N",319.4],["A",320.5],["N",335],["A",343.6],["Eu",348.1],["N",353.9],["Eu",355.5],["N",356.9],["Eu",358.4],["N",4.4],["A",7.2],["N",8.8],["A",13.1],["N",24.9],["Eu",26.1],["N",27.6],["Eu",28.8],["N",32.2],["A",34.8],["N",46.7],["A",48.1],["N",50.6],["Eu",53.7],["N",100.2],["A",101.8],["N",107.7],["Eu",109.1],["A",110.9],["N",119.7],["A",121.5],["N",125.2],["A",126.8],["N",148.7],["Eu",150.6],["N",159.5],["A",162.1],["N",168.2],["Eu",181.4],["N",184.3],["A",187.2],["N",190.2],["A",191.7],["N",205],["A",207.7],["N",229.9],["Eu",245],["N",251],["Eu",252.3],["N",254],["A",255.4],["N",265.6],["A",268.5],["N",274.6],["A",276],["N",279],["Eu",280.7],["A",283.6],["N",289.3],["gap",299.5]];
const innerRing = [["U",301.2],["8",318.7],["4",334.9],["1",2.8],["U",16],["3",92.8],["U",100.3],["5",107.8],["U",112.2],["2",118],["7",132.8],["9",181.5],["U",182.8],["10",188.7],["U",191.6],["6",289.3],["gap",299.5]];

const clusterLegend = [["1","#ff0000"],["2","#ff9900"],["3","#ffff00"],["4","#aaff00"],["5","#00ff66"],["6","#00ffff"],["7","#00aaff"],["8","#5500ff"],["9","#cc00ff"],["10","#ff0099"],["Unclustered","#cccccc"]];
const continentLegend = [["Asia+Australia","#eee8aa"],["Europe","#cd8b83"],["North America","#b03060"]];
const originLegend = [["Food","#a8ddb5"],["Human","#2ca25f"],["Environmental","#006d5b"]];
const ringColor = { "1":"#ff0000","2":"#ff9900","3":"#ffff00","4":"#aaff00","5":"#00ff66","6":"#00ffff","7":"#00aaff","8":"#5500ff","9":"#cc00ff","10":"#ff0099",U:"#cccccc",A:"#eee8aa",Eu:"#cd8b83",N:"#b03060",F:"#a8ddb5",H:"#2ca25f",E:"#006d5b",gap:"rgba(0,0,0,0)" };

/* ---------- g: tree, branches in tree-plot units, arcs as [radius, from, to] ---------- */
const ringTreeCentre = [772, 782];
const ringTreeArcs = [[506,16.6,92],[467,133.5,181],[478,206,289],[460,336.6,362.2],[435,319.7,334],[480,252,262],[479,262,272],[477,214,250],[476,230,244],[468,150,172]];
const ringTreeBranches = [
[768,820,772,808,783,800,790,785],[770,820,790,812,805,805],[765,820,757,850,769,848],[780,780,790,785,1214,808],[790,790,880,790],[835,795,1206,825],[1206,818,1206,832],[840,792,1217,845],[805,800,860,815,1203,880],[1200,866,1203,880,1197,912],[860,820,1193,920],[790,793,818,805,830,808,818,822,858,860],[845,878,872,848,1143,1027,1155,1013,1162,1020,1135,1047],[845,878,1048,1158],[858,860,845,878],[1155,1013,1172,1003],[1150,1052,1115,1090],[830,808,937,850,940,858],[940,848,1270,968],[1270,962,1270,975],[937,858,1250,1000],[1253,985,1238,1022],
[772,762,778,738,790,695,808,695,800,660,830,665,840,622],[778,738,779,705,803,297],[788,688,812,323],[800,660,815,618,868,635,1045,360],[820,612,900,312],[815,610,884,290],[878,290,892,290],[808,630,864,297],[803,650,850,313],[800,655,835,322],[795,670,823,325],[815,398,826,400],[815,398,818,380],
[765,775,752,745,735,757],[752,745,727,685],[743,680,710,695,520,435],[743,680,652,345,653,308],[640,312,666,306],[735,757,685,720],[688,715,680,727],[688,715,430,527],[680,727,396,565],[430,527,445,503,428,497,400,543,412,550,430,527],[438,498,458,470,435,458],[443,430,450,455],[440,425,453,432],[490,452,520,430],[515,432,535,425],[545,410,582,390],[590,362,640,347],[610,355,660,340],[660,340,710,328],[690,330,760,322],
[757,850,735,912,750,915,700,1215],[735,912,730,945],[716,937,742,945,670,1310],[716,937,612,1218],[768,848,762,905,755,1245],[762,905,768,907,735,1185],[720,1188,740,1188,733,1228,729,1277],[720,1188,716,1232],[710,1232,722,1233],[733,1228,745,1228],[570,1205,650,1232,642,1258],[603,1247,643,1258,667,1266],
[752,745,765,762,772,770,778,772,772,778,782,786],[782,786,776,795,784,806,772,812,776,820],[292,770,296,790],[290,800,294,850],[292,850,300,905],[590,362,593,368]];
const scaleBarLine = [[274,1512,394,1512],[274,1507,274,1517],[394,1507,394,1517]];

/* ---------- helpers ---------- */
const flatPairs = (arr, kx = 1, ky = 1) => { const o = []; for (let i = 0; i < arr.length; i += 2) o.push({ x: arr[i] * kx, y: arr[i + 1] * ky }); return o; };
const zipXY = (xs, ys) => xs.map((x, i) => ({ x, y: ys[i] }));
const closed = (pts) => [...pts, pts[0]];
const polylinePoints = (lines) => { const o = []; lines.forEach((l) => { for (let i = 0; i < l.length; i += 2) o.push({ x: l[i], y: l[i + 1] }); o.push({ x: null, y: null }); }); return o; };
const edgeValue = (px, [v0, p0, v1, p1]) => v0 + ((px - p0) * (v1 - v0)) / (p1 - p0);

const base = { responsive: false, animation: false, devicePixelRatio: 1, events: [] };
const noLegend = { legend: { display: false }, tooltip: { enabled: false } };

function cartesianConfig(o) {
  const [x0, y0, x1, y1] = o.canvas;
  const [l, t, r, b] = o.area;
  const font = { family: PLOT_FONT, size: o.fontSize || 21 };
  const lh = font.size * 1.2;
  const axis = (key, ticks, fmt, titleText, lo, hi) => ({
    type: "linear", min: lo, max: hi, offset: false, reverse: false,
    afterBuildTicks: (s) => { s.ticks = ticks.map((value) => ({ value })); },
    afterFit: (s) => {
      if (key === "x") s.height = y1 - b; else s.width = l - x0;
      s.paddingTop = 0; s.paddingBottom = 0; s.paddingLeft = 0; s.paddingRight = 0;
    },
    grid: { display: true, drawOnChartArea: false, drawTicks: true, tickLength: o.tickLength || 4, color: "#777777", offset: false },
    border: { display: false },
    ticks: { font, color: "#111111", padding: o.tickPadding ?? 2, maxRotation: 0, minRotation: 0, autoSkip: false, callback: fmt, labelOffset: key === "y" ? o.yLabelOffset || 0 : 0 },
    title: { display: true, text: titleText, font, color: "#111111", padding: 0 },
  });
  const placeTitles = {
    id: "placeTitles",
    afterLayout(chart) {
      ["x", "y"].forEach((k) => {
        const s = chart.scales[k];
        if (s.__moved) return;
        s.__moved = true;
        const [tx, ty] = k === "x" ? o.xTitleAt : o.yTitleAt;
        const dx = tx - x0 - (k === "x" ? (s.left + s.right) / 2 : s.left + lh / 2);
        const dy = ty - y0 - (k === "x" ? s.bottom - lh / 2 : (s.top + s.bottom) / 2);
        const orig = s.drawTitle.bind(s);
        s.drawTitle = () => { const c = chart.ctx; c.save(); c.translate(dx, dy); orig(); c.restore(); };
      });
    },
  };
  const frame = {
    id: "frame",
    beforeDatasetsDraw(chart) {
      const c = chart.ctx, a = chart.chartArea, sx = chart.scales.x, sy = chart.scales.y;
      c.save(); c.strokeStyle = o.frameColor || "#888888"; c.lineWidth = 1.5; c.beginPath();
      if (o.frame === "box") { c.rect(a.left, a.top, a.right - a.left, a.bottom - a.top); }
      else if (o.frame === "open") { c.moveTo(a.right, a.top); c.lineTo(a.left, a.top); c.lineTo(a.left, a.bottom); c.lineTo(a.right, a.bottom); }
      else {
        const xt = o.xTicks, yt = o.yTicks;
        c.moveTo(sx.getPixelForValue(xt[0]), a.bottom); c.lineTo(sx.getPixelForValue(xt[xt.length - 1]), a.bottom);
        c.moveTo(a.left, sy.getPixelForValue(yt[0])); c.lineTo(a.left, sy.getPixelForValue(yt[yt.length - 1]));
      }
      c.stroke(); c.restore();
    },
    afterDatasetsDraw(chart) {
      const c = chart.ctx, sx = chart.scales.x, sy = chart.scales.y;
      (o.notes || []).forEach((n) => {
        c.save(); c.font = `${font.size}px ${PLOT_FONT}`; c.fillStyle = n.color; c.textAlign = "center"; c.textBaseline = "middle";
        c.fillText(n.text, sx.getPixelForValue(n.x), sy.getPixelForValue(n.y) + 2.5); c.restore();
      });
    },
  };
  return {
    type: o.type || "line",
    data: { datasets: o.datasets },
    plugins: [placeTitles, frame],
    options: {
      ...base,
      layout: { padding: { left: 0, bottom: 0, top: t - y0, right: x1 - r }, autoPadding: false },
      plugins: noLegend,
      elements: { point: { radius: 0 }, line: { tension: 0 } },
      scales: {
        x: axis("x", o.xTicks, o.xFmt, o.xTitle, edgeValue(l, o.xMap), edgeValue(r, o.xMap)),
        y: axis("y", o.yTicks, o.yFmt, o.yTitle, edgeValue(b, o.yMap), edgeValue(t, o.yMap)),
      },
    },
  };
}

const lineSet = (pts, color, width = 1.5, extra = {}) => ({ type: "line", data: pts, borderColor: color, borderWidth: width, pointRadius: 0, fill: false, tension: 0, ...extra });
const fmt0 = (v) => String(v);
const fmt1 = (v) => v.toFixed(1);
const fmt2 = (v) => v.toFixed(2);
const fmt3 = (v) => v.toFixed(3);

/* ---------- panel configs ---------- */
const panelA = () => cartesianConfig({
  type: "bar", canvas: [0, 0, 440, 360], area: [51, 33, 410, 301],
  xMap: [97.5, 71, 100, 401], yMap: [0, 290, 10, 50.7],
  xTicks: [97.5, 98, 98.5, 99, 99.5, 100], yTicks: [0, 2, 4, 6, 8, 10], xFmt: fmt1, yFmt: fmt0,
  xTitle: "Average nucleotide identity", yTitle: "Frequency (x1000)", xTitleAt: [231, 341], yTitleAt: [11, 167],
  frame: "r", tickLength: 6, frameColor: "#777777",
  datasets: [
    lineSet([{ x: 97.45, y: 0 }, { x: 100, y: 0 }], "#666666", 1),
    { type: "bar", data: zipXY(aniBins, aniFreq), backgroundColor: "#bebebe", borderColor: "#5a5a5a", borderWidth: 1, barThickness: 6.6, borderSkipped: false },
  ],
});

const panelB = () => cartesianConfig({
  type: "bar", canvas: [0, 350, 420, 770], area: [58.3, 362.3, 395.7, 708.3],
  xMap: [0, 73, 200, 331.7], yMap: [0, 692.3, 4, 415.3],
  xTicks: [0, 50, 100, 150, 200], yTicks: [0, 1, 2, 3, 4], xFmt: fmt0, yFmt: fmt0,
  xTitle: "Number of genomes", yTitle: "Number of genes (x1000)", xTitleAt: [223, 744], yTitleAt: [27, 548], frame: "box",
  notes: [
    { text: "Strain-specific genes", x: 98.7, y: 4.41, color: "#111111" },
    { text: "Core genes", x: 193.8, y: 3.617, color: "#111111" },
    { text: "Accessory genes", x: 127.5, y: 1.637, color: "#111111" },
  ],
  datasets: [
    lineSet(zipXY(braceX, braceY), "#000000", 2, { tension: 0.35 }),
    lineSet(zipXY(strainArrowX, strainArrowY), "#000000", 2, { pointRadius: [0, 7], pointStyle: "triangle", pointRotation: [0, -120], pointBackgroundColor: "#000000", pointBorderWidth: 0 }),
    lineSet(zipXY(coreArrowX, coreArrowY), "#000000", 2, { pointRadius: [0, 7], pointStyle: "triangle", pointRotation: [0, 135], pointBackgroundColor: "#000000", pointBorderWidth: 0 }),
    { type: "bar", data: geneFreq.map((y, i) => ({ x: i + 1, y })), backgroundColor: "#ff0000", borderWidth: 0, barThickness: 1.6 },
  ],
});

const panelC = () => cartesianConfig({
  canvas: [0, 750, 420, 1155], area: [62, 758.7, 395.7, 1104.4],
  xMap: [0, 76, 200, 332.7], yMap: [0, 1089, 15, 813.6],
  xTicks: [0, 50, 100, 150, 200], yTicks: [0, 5, 10, 15], xFmt: fmt0, yFmt: fmt0,
  xTitle: "Number of genomes", yTitle: "Number of genes (x1000)", xTitleAt: [226.7, 1139], yTitleAt: [23, 955.6], frame: "box",
  notes: [
    { text: "Total genes", x: 100.5, y: 16, color: "#18c52a" },
    { text: "Conserved genes", x: 151, y: 4.5, color: "#9a12bd" },
  ],
  datasets: [
    lineSet(zipXY(conservedX, conservedY), "#a92ddb", 1.5),
    lineSet(zipXY(totalX, totalY), "#2fc653", 1.5, { cubicInterpolationMode: "monotone" }),
  ],
});

const panelD = () => cartesianConfig({
  canvas: [0, 1150, 420, 1554], area: [58.3, 1155.6, 395.7, 1502.3],
  xMap: [0, 72, 200, 331], yMap: [0, 1486, 4, 1210],
  xTicks: [0, 50, 100, 150, 200], yTicks: [0, 1, 2, 3, 4], xFmt: fmt0, yFmt: fmt0,
  xTitle: "Number of genomes", yTitle: "Number of genes (x1000)", xTitleAt: [219, 1541], yTitleAt: [27, 1346], frame: "box",
  notes: [
    { text: "Unique genes", x: 93, y: 4.48, color: "#fb6a1c" },
    { text: "New genes", x: 178.6, y: 0.29, color: "#19a8dc" },
  ],
  datasets: [
    lineSet(zipXY(newX, newY), "#1ca6da", 1.5),
    lineSet(zipXY(uniqueX, uniqueY), "#f6823a", 1.5),
  ],
});

const treeChart = () => {
  const groups = [treeBlack, treeCyan, treeLime, treeGreen, treeBlue, treePurple, treeIndigo, treeGold, treeOrange, treeMagenta, treeRed];
  return {
    type: "scatter",
    data: { datasets: groups.map((g, i) => ({ data: polylinePoints(g), showLine: true, borderColor: treeColors[i], borderWidth: 1.6, pointRadius: 0, spanGaps: false, tension: 0 })) },
    options: { ...base, plugins: noLegend, layout: { padding: 0 },
      scales: { x: { type: "linear", display: false, min: 0, max: 1568 }, y: { type: "linear", display: false, reverse: true, min: 0, max: 1568 } } },
  };
};

const heatChart = () => {
  /* three paint layers: background (bottom), band stripes (middle), fine marks (top) */
  const bottom = [{ col: 0, w: 710, r0: 0, r1: 237, s: "#f7fbff" }, { col: 0, w: 138, r0: 0, r1: 237, s: heatShades[0] }];
  heatPaleExtent.forEach((e, i) => bottom.push({ col: 140, w: e - 140, r0: heatBandTop[i], r1: heatBandBottom[i], s: "#ebf1f9" }));
  const edge = heatEdge.map((e, i) => ({ col: 138, w: e - 138, r0: heatBandTop[i], r1: heatBandBottom[i], s: heatShades[0] }));
  const middle = [];
  heatBandStripes.forEach((band, i) => band.forEach(([col, w, s]) => middle.push({ col, w, r0: heatBandTop[i], r1: heatBandBottom[i], s: heatShades[s] })));
  heatFlecks.forEach(([col, r, h]) => middle.push({ col, w: 1, r0: r, r1: r + h, s: heatShades[5] }));
  const top = [];
  heatMottle.forEach(([col, r, h, s]) => top.push({ col, w: 2, r0: r, r1: r + h, s: heatShades[s] }));
  heatDots.forEach(([col, r, w, h]) => top.push({ col, w, r0: r, r1: r + h, s: heatShades[0] }));
  heatSpecks.forEach(([col, w, r, h]) => top.push({ col, w, r0: r, r1: r + h, s: heatShades[2] }));
  const layers = [];
  [top, middle, edge, bottom].forEach((rects) => {
    const sized = rects.filter((q) => q.w > 0);
    const widths = [...new Set(sized.map((q) => q.w))].sort((a, b) => a - b);
    widths.forEach((w) => {
      const rs = sized.filter((q) => q.w === w);
      layers.push({ stack: "heat", barThickness: w, inflateAmount: 0, borderWidth: 0, borderSkipped: false,
        data: rs.map((q) => ({ x: q.col + w / 2, y: [q.r0, q.r1] })), backgroundColor: rs.map((q) => q.s) });
    });
  });
  return {
    type: "bar",
    data: { datasets: layers },
    options: { ...base, plugins: noLegend, layout: { padding: 0 },
      scales: { x: { type: "linear", display: false, min: 0, max: 710, offset: false }, y: { type: "linear", display: false, reverse: true, min: 0, max: 237, stacked: false } } },
  };
};

const panelF = () => {
  const kx = 1e-5, ky = 1e-3;
  const contour = (arr, color, w = 1.5) => ({ type: "scatter", data: closed(flatPairs(arr, kx, ky)), showLine: true, borderColor: color, borderWidth: w, pointRadius: 0, tension: 0.35, fill: false });
  const area = (arr, color) => ({ type: "scatter", data: closed(flatPairs(arr, kx, ky)), showLine: true, borderWidth: 0, borderColor: color, backgroundColor: color, pointRadius: 0, tension: 0.3, fill: "shape" });
  const cloud = (arr) => ({ type: "scatter", data: flatPairs(arr, kx, ky), showLine: false, pointRadius: 1.45, pointBorderWidth: 0, pointBackgroundColor: "#1f77b4" });
  return cartesianConfig({
    type: "scatter", canvas: [1360, 60, 1946, 520], area: [1466.5, 90, 1946, 448.3], fontSize: 26.5,
    xMap: [0, 1488.9, 0.02, 1887.3], yMap: [0, 432, 0.35, 102.7], yLabelOffset: 3,
    xTicks: [0, 0.005, 0.01, 0.015, 0.02], yTicks: [0, 0.05, 0.1, 0.15, 0.2, 0.25, 0.3, 0.35], xFmt: fmt3, yFmt: fmt2,
    xTitle: "Core distance", yTitle: "Accessory distance", xTitleAt: [1675, 495.5], yTitleAt: [1385, 291.7], frame: "open", tickLength: 4,
    datasets: [
      ...[contourC8, contourC7, contourC6, contourC5, contourC4, contourC3, contourC2, contourC1].map((c, i) => contour(c, contourColors[7 - i])),
      contour(contourLeftSmall, "#8a12a8"), contour(contourLeftBig, "#5b12a0"), contour(contourBottom, "#7a12a8"),
      area(contourC1, "#1f77b4"), area(contourLeftBig, "#1f77b4"), area(columnLeft, "#1f77b4"),
      cloud(mainCloud), cloud(mainCloudDense), cloud(leftCloud), cloud(leftCloudDense), cloud(midCloud),
      area(haloMain, "rgba(31,119,180,0.62)"), area(haloLeft, "rgba(31,119,180,0.62)"),
    ],
  });
};

const ringSpans = (ring) => { let prev = RING_START; return ring.map(([, a]) => { let e = a; while (e < prev - 1e-6) e += 360; const d = e - prev; prev = e; return d; }); };
const ringSet = (ring, weight) => ({ data: ringSpans(ring), backgroundColor: ring.map(([k]) => ringColor[k]), borderWidth: 0, weight, spacing: 0 });
const spacer = (weight) => ({ data: [1], backgroundColor: ["rgba(0,0,0,0)"], borderWidth: 0, weight });

const ringsChart = () => ({
  type: "doughnut",
  data: { datasets: [ringSet(outerRing, 27), spacer(13), ringSet(middleRing, 25), spacer(16), ringSet(innerRing, 24)] },
  options: { ...base, plugins: noLegend, layout: { padding: 0 }, rotation: RING_START, circumference: 360, cutout: 385, radius: 490 },
});

const ringTreeChart = () => {
  const [cx, cy] = ringTreeCentre;
  const arcs = ringTreeArcs.map(([r, a0, a1]) => {
    const pts = [];
    for (let a = a0; a < a1; a += 2) pts.push(cx + r * Math.sin((a * Math.PI) / 180), cy - r * Math.cos((a * Math.PI) / 180));
    pts.push(cx + r * Math.sin((a1 * Math.PI) / 180), cy - r * Math.cos((a1 * Math.PI) / 180));
    return pts;
  });
  return {
    type: "scatter",
    data: { datasets: [
      { data: polylinePoints(scaleBarLine), showLine: true, borderColor: "#666666", borderWidth: 1.3, pointRadius: 0, spanGaps: false },
      { data: polylinePoints([...ringTreeBranches, ...arcs]), showLine: true, borderColor: "#000000", borderWidth: 1.6, pointRadius: 0, spanGaps: false, tension: 0 },
    ] },
    options: { ...base, plugins: noLegend, layout: { padding: 0 },
      scales: { x: { type: "linear", display: false, min: 0, max: 1568 }, y: { type: "linear", display: false, reverse: true, min: 0, max: 1568 } } },
  };
};

/* ---------- components ---------- */
function Panel({ rect, make }) {
  const ref = useRef(null);
  useEffect(() => {
    const ch = new Chart(ref.current, make());
    return () => ch.destroy();
  }, []);
  const [x0, y0, x1, y1] = rect;
  return <canvas ref={ref} width={x1 - x0} height={y1 - y0} style={{ position: "absolute", left: x0, top: y0 }} />;
}

const Letter = ({ c, x, base: b }) => (
  <div style={{ position: "absolute", left: x, top: b - 55.9, fontFamily: LEG_FONT, fontWeight: 700, fontSize: 66, lineHeight: "66px", color: "#000" }}>{c}</div>
);

function LegendBlock({ title, items, titleY, ruleY, ruleRight, firstY }) {
  const text = { position: "absolute", fontFamily: LEG_FONT, whiteSpace: "nowrap", color: "#111" };
  return (
    <>
      <div style={{ ...text, left: 1537, top: titleY - 14, fontWeight: 700, fontSize: 22.7, lineHeight: "28px", color: "#000" }}>{title}</div>
      <div style={{ position: "absolute", left: 1533, top: ruleY, width: ruleRight - 1533, height: 1.5, background: "#777" }} />
      {items.map(([label, color], i) => (
        <React.Fragment key={label}>
          <div style={{ position: "absolute", left: 1536, top: firstY + 46 * i - 15.5, width: 30, height: 30, background: color, border: "1px solid #666" }} />
          <div style={{ ...text, left: 1583, top: firstY + 46 * i - 14, fontSize: 22.6, lineHeight: "28px" }}>{label}</div>
        </React.Fragment>
      ))}
    </>
  );
}

export default function App() {
  return (
    <div style={{ position: "absolute", left: 0, top: 0, width: 1946, height: 1554, overflow: "hidden", background: "#fff", filter: "blur(0.5px)" }}>
      <Panel rect={[0, 0, 440, 360]} make={panelA} />
      <Panel rect={[0, 350, 420, 770]} make={panelB} />
      <Panel rect={[0, 750, 420, 1155]} make={panelC} />
      <Panel rect={[0, 1150, 420, 1554]} make={panelD} />
      <Panel rect={[420, 0, 980, 570]} make={treeChart} />
      <Panel rect={[658, 4, 1368, 557]} make={heatChart} />
      <Panel rect={[1360, 60, 1946, 520]} make={panelF} />
      <Panel rect={[502, 566, 1482, 1546]} make={ringsChart} />
      <Panel rect={[500, 560, 1500, 1554]} make={ringTreeChart} />
      <Letter c="a" x={5} base={33} />
      <Letter c="b" x={1} base={410} />
      <Letter c="c" x={8} base={794} />
      <Letter c="d" x={2} base={1196} />
      <Letter c="e" x={406} base={34} />
      <Letter c="f" x={1384} base={57} />
      <Letter c="g" x={513} base={647} />
      <div style={{ position: "absolute", left: 484, top: 1503, fontFamily: LEG_FONT, fontSize: 26.2, lineHeight: "32px", color: "#333", whiteSpace: "nowrap" }}>Tree scale: 0.01</div>
      <LegendBlock title="Inner ring: BAPS Cluster" items={clusterLegend} titleY={558} ruleY={579} ruleRight={1809} firstY={604.5} />
      <LegendBlock title="Middle ring: Continent" items={continentLegend} titleY={1155.5} ruleY={1175.5} ruleRight={1783} firstY={1201} />
      <LegendBlock title="Outer ring: Origin" items={originLegend} titleY={1385} ruleY={1405} ruleRight={1732} firstY={1431} />
    </div>
  );
}
